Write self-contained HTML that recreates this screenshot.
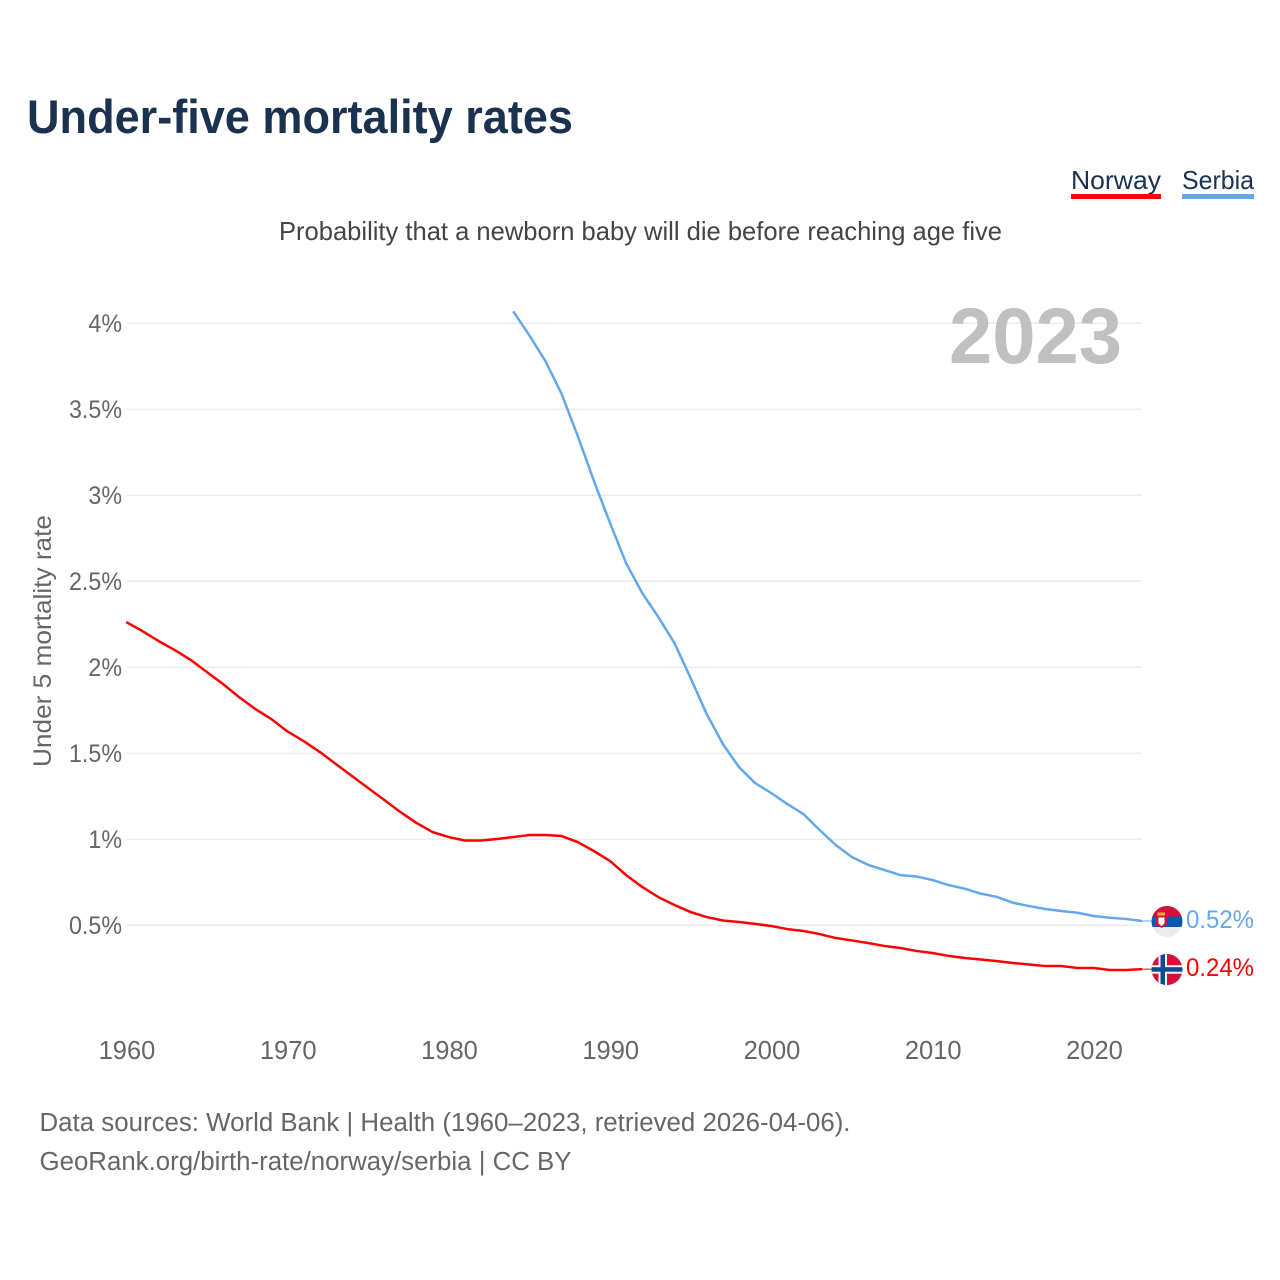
<!DOCTYPE html>
<html lang="en">
<head>
<meta charset="utf-8">
<title>Under-five mortality rates</title>
<style>
html,body{margin:0;padding:0;background:#fff}
svg{display:block}
text{font-family:"Liberation Sans",sans-serif}
</style>
</head>
<body>
<svg id="chart" xmlns="http://www.w3.org/2000/svg" width="1280" height="1280" viewBox="0 0 1280 1280">
  <rect width="1280" height="1280" fill="#fff"/>
  <text x="27" y="133" font-size="47" font-weight="700" fill="#1a3150" textLength="546" lengthAdjust="spacingAndGlyphs">Under-five mortality rates</text>
  <text x="279" y="240" font-size="26" fill="#444444" textLength="723" lengthAdjust="spacingAndGlyphs">Probability that a newborn baby will die before reaching age five</text>

  <g>
    <text x="1071" y="189" font-size="26" fill="#1a3150" textLength="90" lengthAdjust="spacingAndGlyphs">Norway</text>
    <rect x="1071" y="194" width="90" height="5" fill="#ff0000"/>
  </g>
  <g>
    <text x="1182" y="189" font-size="26" fill="#1a3150" textLength="72" lengthAdjust="spacingAndGlyphs">Serbia</text>
    <rect x="1182" y="194" width="72" height="5" fill="#63a7ec"/>
  </g>

  <g id="grid"></g>
  <g id="yticks"></g>
  <g id="xticks"></g>

  <text x="949" y="363" font-size="79" font-weight="700" fill="#c0c0c0" textLength="173" lengthAdjust="spacingAndGlyphs">2023</text>
  <text transform="translate(51,767) rotate(-90)" font-size="25" fill="#666666" textLength="252" lengthAdjust="spacingAndGlyphs">Under 5 mortality rate</text>

  <g id="series"></g>

  <defs>
    <clipPath id="flag-clip-serbia"><circle cx="1167" cy="921.5" r="15.5"/></clipPath>
    <clipPath id="flag-clip-norway"><circle cx="1167" cy="969.5" r="15.5"/></clipPath>
  </defs>
  <g clip-path="url(#flag-clip-serbia)">
    <rect x="1151" y="906" width="32" height="11" fill="#d5103a"/>
    <rect x="1151" y="916.5" width="32" height="10.5" fill="#0c56b0"/>
    <rect x="1151" y="927" width="32" height="11" fill="#ececec"/>
    <rect x="1157.5" y="912.5" width="7.5" height="3.5" fill="#f2b632"/>
    <path d="M1156 915.5h11v9l-5.5 3.5l-5.5-3.5z" fill="#d5103a"/>
    <path d="M1158.5 917.5h6v6l-3 2.5l-3-2.5z" fill="#ffffff"/>
  </g>
  <g clip-path="url(#flag-clip-norway)">
    <rect x="1151" y="954" width="32" height="32" fill="#d5103a"/>
    <rect x="1158.5" y="954" width="8.5" height="32" fill="#f4f4f4"/>
    <rect x="1151" y="965.2" width="32" height="8.5" fill="#f4f4f4"/>
    <rect x="1160.5" y="954" width="4.5" height="32" fill="#0c4a96"/>
    <rect x="1151" y="967.2" width="32" height="4.5" fill="#0c4a96"/>
  </g>

  <text x="1186" y="928" font-size="25" fill="#63a7ec" textLength="68" lengthAdjust="spacingAndGlyphs">0.52%</text>
  <text x="1186" y="976" font-size="25" fill="#ff0000" textLength="68" lengthAdjust="spacingAndGlyphs">0.24%</text>

  <text x="39.5" y="1131" font-size="25.5" fill="#666666" textLength="811" lengthAdjust="spacingAndGlyphs">Data sources: World Bank | Health (1960–2023, retrieved 2026-04-06).</text>
  <a><text x="39.5" y="1170" font-size="25.5" fill="#666666" textLength="532" lengthAdjust="spacingAndGlyphs">GeoRank.org/birth-rate/norway/serbia | CC BY</text></a>
</svg>
<script>
const yearTicks = [1960, 1970, 1980, 1990, 2000, 2010, 2020];
const percentTicks = [0.5, 1, 1.5, 2, 2.5, 3, 3.5, 4];
const norwayStartYear = 1960;
const serbiaStartYear = 1984;
const norwayValues = [
  2.263, 2.211, 2.153, 2.101, 2.043, 1.973, 1.903, 1.827, 1.758, 1.699,
  1.627, 1.571, 1.508, 1.438, 1.368, 1.298, 1.229, 1.159, 1.095, 1.042,
  1.013, 0.993, 0.993, 1.002, 1.013, 1.025, 1.025, 1.019, 0.984, 0.932,
  0.874, 0.792, 0.723, 0.664, 0.618, 0.577, 0.548, 0.528, 0.519, 0.508,
  0.496, 0.478, 0.467, 0.449, 0.426, 0.412, 0.397, 0.380, 0.368, 0.351,
  0.339, 0.322, 0.310, 0.301, 0.292, 0.281, 0.272, 0.263, 0.263, 0.252,
  0.252, 0.240, 0.240, 0.245
];
const serbiaValues = [
  4.07, 3.93, 3.78, 3.59, 3.345, 3.085,
  2.84, 2.606, 2.432, 2.292, 2.141, 1.938, 1.728, 1.554, 1.42, 1.327,
  1.269, 1.205, 1.147, 1.054, 0.967, 0.897, 0.852, 0.822, 0.792, 0.784,
  0.763, 0.734, 0.713, 0.684, 0.665, 0.631, 0.612, 0.595, 0.583, 0.573,
  0.554, 0.544, 0.537, 0.525
];

const SVG_NS = 'http://www.w3.org/2000/svg';
function xScale(year) { return 126.2 + (year - 1960) * 16.125; }
function yScale(value) { return 1011.3 - value * 172; }

const grid = document.getElementById('grid');
const yTickGroup = document.getElementById('yticks');
const xTickGroup = document.getElementById('xticks');
const seriesGroup = document.getElementById('series');

percentTicks.forEach(function (tick) {
  const line = document.createElementNS(SVG_NS, 'line');
  
  
  line.setAttribute('x1', xScale(1960) + 0.8);
  line.setAttribute('x2', 1142);
  line.setAttribute('y1', yScale(tick));
  line.setAttribute('y2', yScale(tick));
  line.setAttribute('stroke', '#ebebeb');
  line.setAttribute('stroke-width', '1.5');
  grid.appendChild(line);

  const label = document.createElementNS(SVG_NS, 'text');
  
  
  label.setAttribute('x', 122);
  label.setAttribute('y', yScale(tick) + 8.5);
  label.setAttribute('text-anchor', 'end');
  label.setAttribute('font-size', '25');
  label.setAttribute('fill', '#666666');
  label.textContent = tick + '%';
  yTickGroup.appendChild(label);
  label.setAttribute('textLength', (label.getComputedTextLength() * 0.93).toFixed(1));
  label.setAttribute('lengthAdjust', 'spacingAndGlyphs');
});

yearTicks.forEach(function (year) {
  const label = document.createElementNS(SVG_NS, 'text');
  
  
  label.setAttribute('x', xScale(year) + 0.8);
  label.setAttribute('y', 1059);
  label.setAttribute('text-anchor', 'middle');
  label.setAttribute('font-size', '25.5');
  label.setAttribute('fill', '#666666');
  label.textContent = year;
  xTickGroup.appendChild(label);
});

function pointsFor(startYear, values) {
  return values.map(function (value, i) {
    return xScale(startYear + i).toFixed(2) + ',' + yScale(value).toFixed(2);
  }).join(' ');
}

const serbiaLeader = document.createElementNS(SVG_NS, 'line');


serbiaLeader.setAttribute('x1', xScale(serbiaStartYear + serbiaValues.length - 1));
serbiaLeader.setAttribute('x2', 1152);
serbiaLeader.setAttribute('y1', yScale(serbiaValues[serbiaValues.length - 1]));
serbiaLeader.setAttribute('y2', yScale(serbiaValues[serbiaValues.length - 1]));
serbiaLeader.setAttribute('stroke', '#63a7ec');
serbiaLeader.setAttribute('stroke-width', '1');
seriesGroup.appendChild(serbiaLeader);

const norwayLeader = document.createElementNS(SVG_NS, 'line');


norwayLeader.setAttribute('x1', xScale(norwayStartYear + norwayValues.length - 1));
norwayLeader.setAttribute('x2', 1152);
norwayLeader.setAttribute('y1', yScale(norwayValues[norwayValues.length - 1]));
norwayLeader.setAttribute('y2', yScale(norwayValues[norwayValues.length - 1]));
norwayLeader.setAttribute('stroke', '#ff0000');
norwayLeader.setAttribute('stroke-width', '1');
seriesGroup.appendChild(norwayLeader);

const serbiaLine = document.createElementNS(SVG_NS, 'polyline');


serbiaLine.setAttribute('points', pointsFor(serbiaStartYear, serbiaValues));
serbiaLine.setAttribute('fill', 'none');
serbiaLine.setAttribute('stroke', '#63a7ec');
serbiaLine.setAttribute('stroke-width', '2.5');
serbiaLine.setAttribute('stroke-linejoin', 'round');
seriesGroup.appendChild(serbiaLine);

const norwayLine = document.createElementNS(SVG_NS, 'polyline');


norwayLine.setAttribute('points', pointsFor(norwayStartYear, norwayValues));
norwayLine.setAttribute('fill', 'none');
norwayLine.setAttribute('stroke', '#ff0000');
norwayLine.setAttribute('stroke-width', '2.5');
norwayLine.setAttribute('stroke-linejoin', 'round');
seriesGroup.appendChild(norwayLine);
</script>
</body>
</html>
